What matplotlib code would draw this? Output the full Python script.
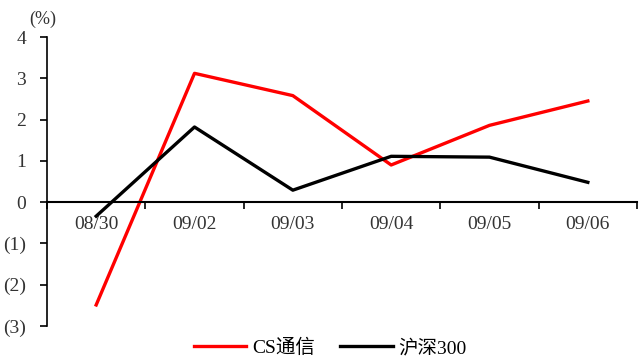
import matplotlib
matplotlib.use("Agg")
import matplotlib.pyplot as plt
import numpy as np
from matplotlib.ticker import FixedLocator, FuncFormatter

plt.rcParams["font.family"] = ["Liberation Serif", "Noto Sans CJK SC", "DejaVu Sans"]

dates = ["08/30", "09/02", "09/03", "09/04", "09/05", "09/06"]
cs_telecom = [-2.49, 3.12, 2.58, 0.90, 1.86, 2.45]
hs300 = [-0.34, 1.82, 0.29, 1.11, 1.09, 0.48]

fig = plt.figure(figsize=(6.39, 3.56), dpi=100)
ax = fig.add_axes([47 / 639, 30 / 356, 590 / 639, 289 / 356])

x = np.arange(len(dates))
ax.plot(x, cs_telecom, color="#ff0000", lw=2.4, label="CS通信")
ax.plot(x, hs300, color="black", lw=2.4, label="沪深300")

ax.set_xlim(-0.5, len(dates) - 0.5)
ax.set_ylim(-3, 4)

for s in ("top", "right"):
    ax.spines[s].set_visible(False)
ax.spines["bottom"].set_position(("data", 0))
ax.spines["bottom"].set_linewidth(1.5)
ax.spines["left"].set_linewidth(1.2)

# category boundaries carry the tick marks, centres carry the labels
ax.xaxis.set_major_locator(FixedLocator(np.arange(-0.5, len(dates), 1.0)))
ax.xaxis.set_major_formatter(FuncFormatter(lambda v, p: ""))
ax.xaxis.set_minor_locator(FixedLocator(x))
ax.set_xticklabels(dates, minor=True)
ax.tick_params(axis="x", which="major", direction="out", length=5, width=1.2)
ax.tick_params(axis="x", which="minor", length=0, pad=10, labelsize=14, colors="#333333")

yt = np.arange(-3, 5)
ax.set_yticks(yt)
ax.set_yticklabels([f"({abs(v)})" if v < 0 else str(v) for v in yt])
ax.tick_params(axis="y", direction="out", length=5, width=1.2, pad=10,
               labelsize=14, colors="black", labelcolor="#333333")

ax.text(-0.41, 4.22, "(%)", fontsize=13, ha="right", va="bottom", color="#333333")

ax.legend(loc="center", bbox_to_anchor=(0.48, -0.076), ncol=2, frameon=False,
          fontsize=14, handlelength=2.7, columnspacing=1.3, handletextpad=0.3,
          borderpad=0, borderaxespad=0)

fig.savefig("out.png", dpi=100)
